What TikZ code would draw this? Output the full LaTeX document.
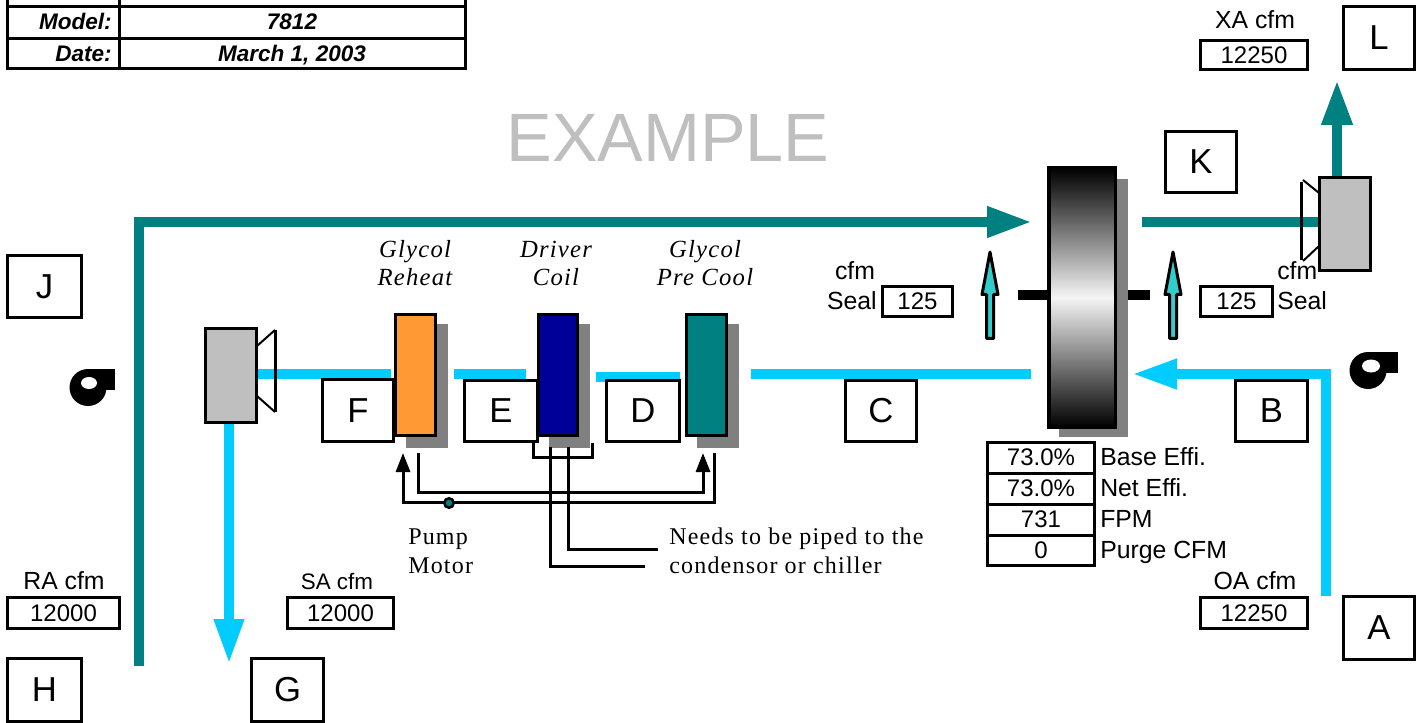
\documentclass[tikz,border=0pt]{standalone}
\usepackage{fontspec}
\usetikzlibrary{arrows.meta}
\setmainfont{Liberation Sans}
\newfontfamily\noteserif[LetterSpace=5]{Liberation Serif}
\definecolor{airteal}{HTML}{008080}
\definecolor{aircyan}{HTML}{00CCFF}
\definecolor{fangray}{HTML}{BFBFBF}
\definecolor{shadowgray}{HTML}{808080}
\definecolor{coilorange}{HTML}{FF9933}
\definecolor{coilblue}{HTML}{000099}
\definecolor{sealcyan}{HTML}{33CCCC}
\def\px{0.75pt}
\newcommand{\bx}[7]{%
  \pgfmathsetmacro{\bxw}{(#4-#2-1.2)*0.75}%
  \pgfmathsetmacro{\bxh}{(#5-#3-1.2)*0.75}%
  \node[plainbox,minimum width=\bxw pt,minimum height=\bxh pt,#6] (#1) at ({(#2+#4)/2},{(#3+#5)/2}) {#7};%
}
\tikzset{
  plainbox/.style={draw=black,line width=3*\px,inner sep=0pt,outer sep=0pt,fill=white},
  letterbox/.style={font=\fontsize{26}{30}\selectfont},
  valuebox/.style={font=\fontsize{18}{20}\selectfont},
  titlebox/.style={font=\fontsize{16.9}{20}\selectfont\bfseries\itshape},
  shadow/.style={draw=none,fill=shadowgray},
  fan/.style={fill=fangray},
  tealair/.style={draw=airteal,line width=10*\px},
  cyanair/.style={draw=aircyan,line width=10*\px},
  tealhead/.style={-{Triangle[length=45*\px,width=29*\px]}},
  cyanhead/.style={-{Triangle[length=45*\px,width=28*\px]}},
  pipe/.style={draw=black,line width=3*\px},
  pipehead/.style={-{Triangle[length=19*\px,width=14*\px]}},
  cone/.style={draw=black,line width=3*\px},
  conethin/.style={draw=black,line width=2*\px},
  lab/.style={font=\fontsize{18.6}{20}\selectfont,inner sep=0pt,anchor=base west},
  labc/.style={font=\fontsize{18.6}{20}\selectfont,inner sep=0pt,anchor=base},
  note/.style={font=\fontsize{18}{20}\selectfont\noteserif,inner sep=0pt,anchor=base west},
  notei/.style={font=\fontsize{18.5}{20}\selectfont\noteserif\itshape,inner sep=0pt,anchor=base},
  blowerbody/.style={fill=black,draw=none},
  blowereye/.style={fill=white,draw=none},
  sealarrow/.style={draw=black,line width=3*\px,fill=sealcyan,line join=round},
}
\begin{document}
\begin{tikzpicture}[x=0.75pt,y=-0.75pt]
\useasboundingbox (0,0) rectangle (1416,723);
\fill[white] (0,0) rectangle (1416,723);

% title table
\draw[line width=3*\px] (7.5,0) -- (7.5,69) (119,0) -- (119,69) (465,0) -- (465,69)
  (6,7) -- (466.5,7) (7,38.5) -- (465,38.5) (6,69) -- (466.5,69);
\node[titlebox,inner sep=0pt,anchor=base east] (modellabel) at (112,30) {Model:};
\node[titlebox,inner sep=0pt,anchor=base] (modelvalue) at (292,30) {7812};
\node[titlebox,inner sep=0pt,anchor=base east] (datelabel) at (112,62) {Date:};
\node[titlebox,inner sep=0pt,anchor=base] (datevalue) at (292,62) {March 1, 2003};

% watermark
\node[inner sep=0pt,anchor=base,text=fangray,font=\fontsize{51.3}{60}\selectfont] (example) at (668,162) {EXAMPLE};

% coordinates for air paths
\coordinate (raStart) at (139,666);
\coordinate (raCorner) at (139,222);
\coordinate (raEnd) at (1032,222);
\coordinate (exStart) at (1142,222);
\coordinate (exFan) at (1319,222);
\coordinate (exTop) at (1337,177);
\coordinate (exTip) at (1337,80);
\coordinate (oaStart) at (1326,596);
\coordinate (oaCorner) at (1326,374);
\coordinate (oaTip) at (1132,374);
\coordinate (cEnd) at (1031,374);
\coordinate (cStart) at (751,374);
\coordinate (dEnd) at (680,377);
\coordinate (dStart) at (596,377);
\coordinate (eEnd) at (526,374);
\coordinate (eStart) at (454,374);
\coordinate (fEnd) at (391,374);
\coordinate (fStart) at (257,374);
\coordinate (saStart) at (229,423);
\coordinate (saTip) at (229,664);

% air paths
\draw[tealair,tealhead] (raStart) -- (raCorner) -- (raEnd);
\draw[tealair] (exStart) -- (exFan);
\draw[tealair,tealhead] (exTop) -- (exTip);
\draw[cyanair,cyanhead] (oaStart) -- (oaCorner) -- (oaTip);
\draw[cyanair] (cStart) -- (cEnd);
\draw[cyanair] (dStart) -- (dEnd);
\draw[cyanair] (eStart) -- (eEnd);
\draw[cyanair] (fStart) -- (fEnd);
\draw[cyanair,cyanhead] (saStart) -- (saTip);

% coil shadows
\fill[shadow] (406,324) rectangle (448,448);
\fill[shadow] (549,324) rectangle (590,448);
\fill[shadow] (697,324) rectangle (739,448);
\fill[shadow] (1059,179) rectangle (1128,437);

% piping
\coordinate (p1a) at (714,453);
\coordinate (p1b) at (714,502);
\coordinate (p1c) at (403,502);
\coordinate (p1d) at (403,453);
\coordinate (p2a) at (418,453);
\coordinate (p2b) at (418,492);
\coordinate (p2c) at (703,492);
\coordinate (p2d) at (703,453);
\coordinate (b1) at (533,443);
\coordinate (b2) at (533,457);
\coordinate (b3) at (592,457);
\coordinate (b4) at (592,443);
\coordinate (c1a) at (550,447);
\coordinate (c1b) at (550,566);
\coordinate (c1c) at (645,566);
\coordinate (c2a) at (568,447);
\coordinate (c2b) at (568,549);
\coordinate (c2c) at (658,549);
\draw[pipe,pipehead] (p1a) -- (p1b) -- (p1c) -- (p1d);
\draw[pipe,pipehead] (p2a) -- (p2b) -- (p2c) -- (p2d);
\draw[pipe] (b1) -- (b2) -- (b3) -- (b4);
\draw[pipe] (c1a) -- (c1b) -- (c1c);
\draw[pipe] (c2a) -- (c2b) -- (c2c);
\node[circle,draw=black,line width=2.5*\px,fill=airteal,minimum size=9.5*\px,inner sep=0pt] (pump) at (449,503) {};

% coils
\bx{reheat}{394.5}{313.5}{436.5}{436.5}{fill=coilorange}{}
\bx{driver}{537.5}{313.5}{578.5}{436.5}{fill=coilblue}{}
\bx{precool}{685.5}{313.5}{727.5}{436.5}{fill=airteal}{}

% heat wheel
\draw[draw=none,fill=black] (1018,290) rectangle (1047,300);
\draw[draw=none,fill=black] (1128,290) rectangle (1150,300);
\pgfmathsetmacro{\wheelw}{66.5*0.75}
\pgfmathsetmacro{\wheelh}{259.5*0.75}
\node[draw=black,line width=3.5*\px,inner sep=0pt,outer sep=0pt,minimum width=\wheelw pt,minimum height=\wheelh pt,top color=black,bottom color=black,middle color=white!96!black] (wheel) at (1082,297.5) {};

% seal arrows
\draw[sealarrow] (986.5,338.5) -- (986.5,294.5) -- (982,294.5) -- (990,252) -- (998,294.5) -- (993.5,294.5) -- (993.5,338.5) -- cycle;
\draw[sealarrow] (1169.5,338.5) -- (1169.5,294.5) -- (1165,294.5) -- (1173,252) -- (1181,294.5) -- (1176.5,294.5) -- (1176.5,338.5) -- cycle;

% fans
\draw[conethin] (257,346) -- (275,330);
\draw[conethin] (257,396) -- (275,412);
\draw[cone] (275,330) -- (275,412);
\bx{supplyfan}{205}{328}{257}{423}{fan}{}
\draw[cone] (1301,182) -- (1301,260);
\draw[conethin] (1303,180) -- (1319,193);
\draw[conethin] (1303,261) -- (1319,246);
\bx{exhaustfan}{1319}{177}{1371}{271}{fan}{}

% blowers
\fill[blowerbody] (88,387.5) circle [radius=18.5];
\fill[blowerbody] (88,369) rectangle (115,390);
\fill[blowereye] (89,383) ellipse [x radius=8,y radius=6];
\fill[blowerbody] (1368,370.5) circle [radius=18.5];
\fill[blowerbody] (1368,352) rectangle (1398,373);
\fill[blowereye] (1371,366) ellipse [x radius=9,y radius=6.5];

% letter boxes
\bx{L}{1343}{6}{1415}{70}{letterbox}{L}
\bx{K}{1165}{131}{1237}{193}{letterbox}{K}
\bx{J}{7}{255}{82}{318}{letterbox}{J}
\bx{F}{322}{379}{394}{442}{letterbox}{F}
\bx{E}{464}{380}{538}{442}{letterbox}{E}
\bx{D}{606}{380}{680}{442}{letterbox}{D}
\bx{C}{845}{380}{917}{442}{letterbox}{C}
\bx{B}{1235}{380}{1308}{442}{letterbox}{B}
\bx{A}{1343}{596}{1415}{660}{letterbox}{A}
\bx{H}{7}{658}{82}{722}{letterbox}{H}
\bx{G}{251}{658}{324}{722}{letterbox}{G}

% value boxes
\bx{xaval}{1200}{40}{1308}{70}{valuebox}{12250}
\bx{sealL}{882}{286}{953}{317}{valuebox}{125}
\bx{sealR}{1200}{286}{1273}{317}{valuebox}{125}
\bx{raval}{7}{597}{120}{629}{valuebox}{12000}
\bx{saval}{287}{597}{394}{629}{valuebox}{12000}
\bx{oaval}{1200}{597}{1308}{629}{valuebox}{12250}
\bx{eff1}{987}{441.4}{1095}{473.6}{valuebox}{73.0\%}
\bx{eff2}{987}{472.4}{1095}{504.6}{valuebox}{73.0\%}
\bx{eff3}{987}{503.4}{1095}{535.6}{valuebox}{731}
\bx{eff4}{987}{534.4}{1095}{566}{valuebox}{0}

% labels
\node[labc] (xalab) at (1255,29) {XA cfm};
\node[labc] (ralab) at (64,589) {RA cfm};
\node[labc,font=\fontsize{16.8}{20}\selectfont] (salab) at (337,589) {SA cfm};
\node[labc] (oalab) at (1255,589) {OA cfm};
\node[labc] (cfmL) at (855,280) {cfm};
\node[lab,anchor=base east] (sealtxtL) at (877,310) {Seal};
\node[lab] (cfmR) at (1277,280) {cfm};
\node[lab] (sealtxtR) at (1277,310) {Seal};
\node[lab] (efflab1) at (1100,465.5) {Base Effi.};
\node[lab] (efflab2) at (1100,496.5) {Net Effi.};
\node[lab] (efflab3) at (1100,527.5) {FPM};
\node[lab] (efflab4) at (1100,558.5) {Purge CFM};

% coil captions
\node[notei] (capA1) at (415,258) {Glycol};
\node[notei] (capA2) at (415,286) {Reheat};
\node[notei] (capB1) at (556,258) {Driver};
\node[notei] (capB2) at (556,286) {Coil};
\node[notei] (capC1) at (705,258) {Glycol};
\node[notei] (capC2) at (705,286) {Pre Cool};
\node[note] (pump1) at (408,544) {Pump};
\node[note] (pump2) at (408,573) {Motor};
\node[note] (need1) at (669,544) {Needs to be piped to the};
\node[note] (need2) at (669,573) {condensor or chiller};
\end{tikzpicture}
\end{document}
